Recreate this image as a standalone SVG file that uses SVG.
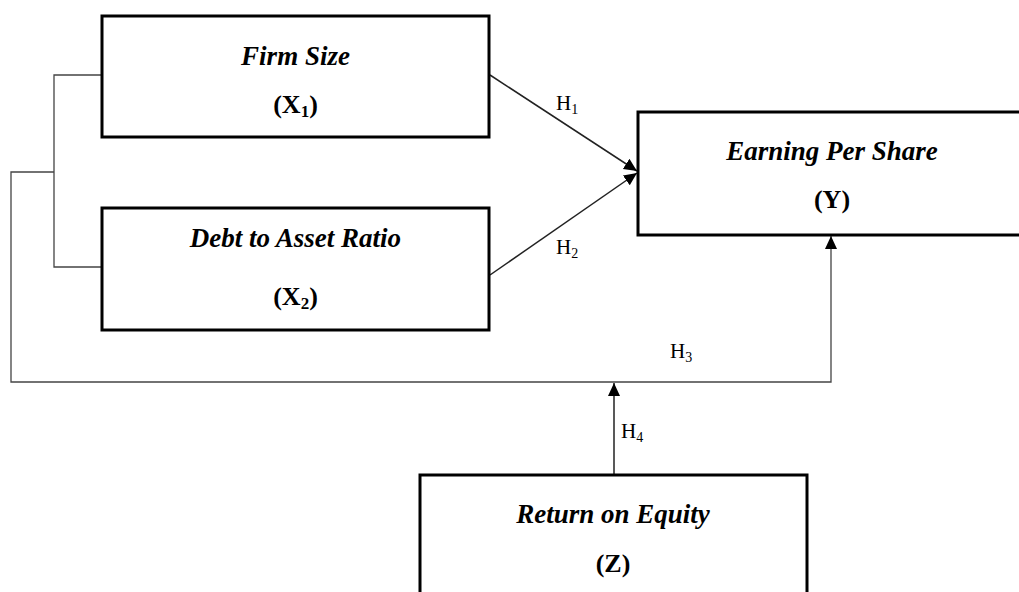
<svg xmlns="http://www.w3.org/2000/svg" width="1019" height="592" viewBox="0 0 1019 592">
<style>
.box{fill:#fff;stroke:#000;stroke-width:3}
.title{font-family:"Liberation Serif",serif;font-style:italic;font-weight:bold;font-size:27px;text-anchor:middle;fill:#000}
.var{font-family:"Liberation Serif",serif;font-weight:bold;font-size:26px;text-anchor:middle;fill:#000}
.sub{font-size:17px}
.lbl{font-family:"Liberation Serif",serif;font-size:21px;fill:#000}
.lsub{font-size:14px}
.conn{fill:none;stroke:#222;stroke-width:1.5}
.thin{fill:none;stroke:#444;stroke-width:1.3}
</style>
<defs>
<marker id="arr" markerUnits="userSpaceOnUse" markerWidth="14" markerHeight="14" viewBox="0 0 14 14" refX="13" refY="7" orient="auto">
<path d="M0,1 L13,7 L0,13 Z" fill="#000"/>
</marker>
</defs>
<g id="connectors">
<polyline class="thin" points="102,75 54,75 54,267 102,267"/>
<polyline class="thin" points="54,172 11,172 11,382 831,382 831,236" marker-end="url(#arr)"/>
<line class="conn" x1="490" y1="75" x2="637" y2="171" marker-end="url(#arr)"/>
<line class="conn" x1="490" y1="275" x2="637" y2="173" marker-end="url(#arr)"/>
<line class="conn" x1="614" y1="475" x2="614" y2="383" marker-end="url(#arr)"/>
<text class="lbl" x="556" y="110">H<tspan class="lsub" dy="4">1</tspan></text>
<text class="lbl" x="556" y="254">H<tspan class="lsub" dy="4">2</tspan></text>
<text class="lbl" x="670" y="358">H<tspan class="lsub" dy="4">3</tspan></text>
<text class="lbl" x="621" y="438">H<tspan class="lsub" dy="4">4</tspan></text>
</g>
<g id="node-firm-size">
<rect class="box" x="102" y="16" width="387" height="121"/>
<text class="title" x="295.5" y="65">Firm Size</text>
<text class="var" x="295.5" y="113">(X<tspan class="sub" dy="4">1</tspan><tspan dy="-4">)</tspan></text>
</g>
<g id="node-dar">
<rect class="box" x="102" y="208" width="387" height="122"/>
<text class="title" x="295.5" y="247">Debt to Asset Ratio</text>
<text class="var" x="295.5" y="305">(X<tspan class="sub" dy="4">2</tspan><tspan dy="-4">)</tspan></text>
</g>
<g id="node-eps">
<rect class="box" x="638" y="112" width="400" height="123"/>
<text class="title" x="832" y="160">Earning Per Share</text>
<text class="var" x="832" y="208">(Y)</text>
</g>
<g id="node-roe">
<rect class="box" x="420" y="475" width="387" height="140"/>
<text class="title" x="613" y="523">Return on Equity</text>
<text class="var" x="613" y="572">(Z)</text>
</g>
</svg>
